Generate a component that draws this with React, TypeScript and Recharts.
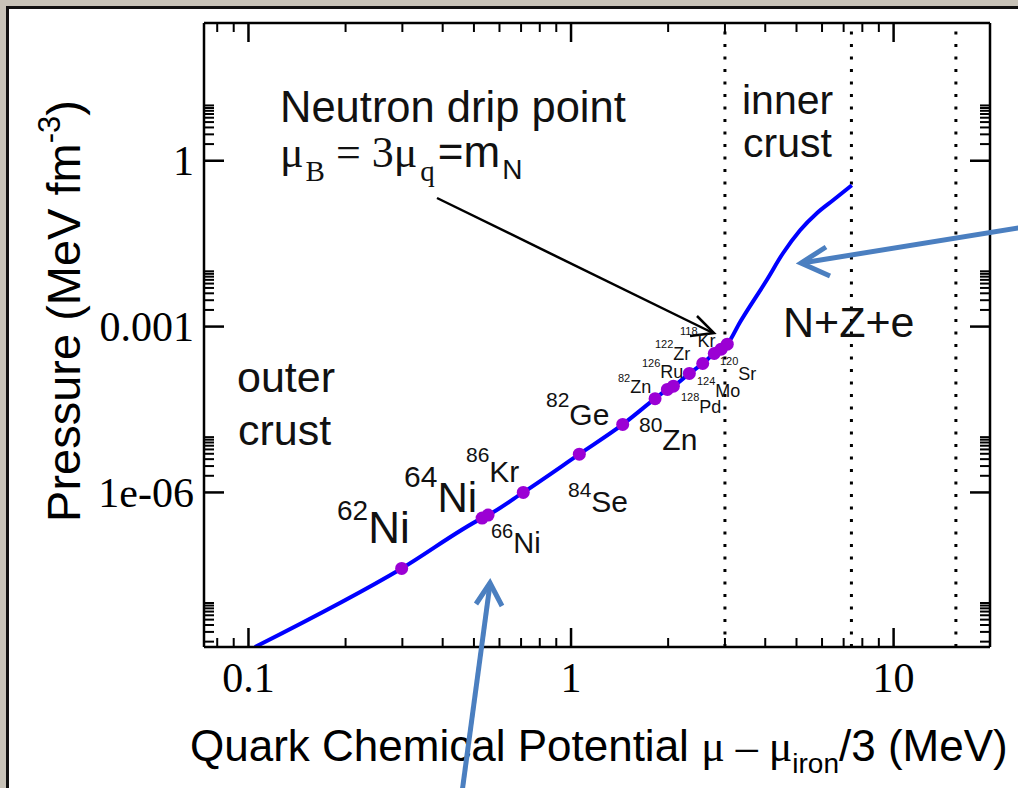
import React from 'react';
import { ComposedChart, Line, Scatter, XAxis, YAxis, ReferenceLine } from 'recharts';

// crust equation of state (MeV, MeV fm^-3)
const curveMu = [0.1047, 0.2985, 0.530, 0.553, 0.711, 1.061, 1.446, 1.822, 1.989, 2.076, 2.327, 2.56, 2.78, 2.92, 3.05, 3.34, 4.04, 4.54, 5.13, 5.78, 6.49, 7.42];
const curveP = [1.6e-9, 4.22e-8, 3.43e-7, 3.89e-7, 1.0e-6, 4.93e-6, 1.7e-5, 4.97e-5, 7.29e-5, 8.36e-5, 1.42e-4, 2.15e-4, 3.26e-4, 3.9e-4, 4.8e-4, 1.2e-3, 6.9e-3, 0.0212, 0.0553, 0.1124, 0.193, 0.36];

// nuclei of the outer crust
const nucleiNames = ['62Ni', '64Ni', '66Ni', '86Kr', '84Se', '82Ge', '80Zn', '82Zn', '128Pd', '126Ru', '124Mo', '122Zr', '120Sr', '118Kr'];
const nucleiMu = [0.2985, 0.530, 0.553, 0.711, 1.061, 1.446, 1.822, 1.989, 2.076, 2.327, 2.56, 2.78, 2.92, 3.05];
const nucleiP = [4.22e-8, 3.43e-7, 3.89e-7, 1.0e-6, 4.93e-6, 1.7e-5, 4.97e-5, 7.29e-5, 8.36e-5, 1.42e-4, 2.15e-4, 3.26e-4, 3.9e-4, 4.8e-4];

// dotted boundaries
const boundaryMu = [3.0, 7.4, 15.6];

const xDomain = [0.0728, 19.9];
const yDomain = [1.6e-9, 310];
const xTicks = [0.08, 0.09, 0.1, 0.2, 0.3, 0.4, 0.5, 0.6, 0.7, 0.8, 0.9, 1, 2, 3, 4, 5, 6, 7, 8, 9, 10];
const xMajor = [0.1, 1, 10];
const xLabels = ['0.1', '1', '10'];
const yTicks = [
  2e-9, 3e-9, 4e-9, 5e-9, 6e-9, 7e-9, 8e-9, 9e-9, 1e-8,
  1e-6, 2e-6, 3e-6, 4e-6, 5e-6, 6e-6, 7e-6, 8e-6, 9e-6, 1e-5,
  1e-3, 2e-3, 3e-3, 4e-3, 5e-3, 6e-3, 7e-3, 8e-3, 9e-3, 1e-2,
  1, 2, 3, 4, 5, 6, 7, 8, 9, 10,
];
const yMajor = [1, 1e-3, 1e-6];
const yLabels = ['1', '0.001', '1e-06'];

const SERIF = '"Liberation Serif", "Times New Roman", serif';
const SANS = '"Liberation Sans", Arial, Helvetica, sans-serif';
const ARROW_BLUE = '#4b7fc0';

const majorIndex = (v: number, majors: number[]) =>
  majors.findIndex((m) => Math.abs(Math.log10(v) - Math.log10(m)) < 1e-6);

const BottomTick = (props: any) => {
  const { x, y, payload } = props;
  const i = majorIndex(payload.value, xMajor);
  return (
    <g>
      <line x1={x} y1={y} x2={x} y2={y - (i >= 0 ? 19 : 9)} stroke="#000" strokeWidth={i >= 0 ? 2.5 : 2} />
      {i >= 0 && (
        <text x={x} y={y + 45} textAnchor="middle" fontFamily={SERIF} fontSize={42} fill="#000">
          {xLabels[i]}
        </text>
      )}
    </g>
  );
};

const TopTick = (props: any) => {
  const { x, y, payload } = props;
  const major = majorIndex(payload.value, xMajor) >= 0;
  return <line x1={x} y1={y} x2={x} y2={y + (major ? 19 : 9)} stroke="#000" strokeWidth={major ? 2.5 : 2} />;
};

const LeftTick = (props: any) => {
  const { x, y, payload } = props;
  const i = majorIndex(payload.value, yMajor);
  return (
    <g>
      <line x1={x} y1={y} x2={x + (i >= 0 ? 20 : 10)} y2={y} stroke="#000" strokeWidth={i >= 0 ? 2.5 : 2} />
      {i >= 0 && (
        <text x={x - 10} y={y} dy="0.35em" textAnchor="end" fontFamily={SERIF} fontSize={42} fill="#000">
          {yLabels[i]}
        </text>
      )}
    </g>
  );
};

const RightTick = (props: any) => {
  const { x, y, payload } = props;
  const major = majorIndex(payload.value, yMajor) >= 0;
  return <line x1={x} y1={y} x2={x - (major ? 20 : 10)} y2={y} stroke="#000" strokeWidth={major ? 2.5 : 2} />;
};

// isotope label: mass number as superscript, then element
const Iso = ({ x, y, a, el, size, supSize, lift }: any) => (
  <text x={x} y={y} fontFamily={SANS} fontSize={size} fill="#111">
    <tspan fontSize={supSize} dy={-lift}>{a}</tspan>
    <tspan dy={lift}>{el}</tspan>
  </text>
);

const App: React.FC = () => {
  const curve = curveMu.map((mu, i) => ({ mu, p: curveP[i] }));
  const nuclei = nucleiMu.map((mu, i) => ({ mu, p: nucleiP[i], name: nucleiNames[i] }));
  const axisLine = { stroke: '#000', strokeWidth: 2.5 };

  return (
    <div style={{ position: 'absolute', left: 0, top: 0, width: 1018, height: 788, overflow: 'hidden', background: '#c8c3b8' }}>
      <div style={{ position: 'absolute', left: 6, top: 6, width: 1040, height: 800, background: '#fff', border: '3px solid #111' }} />
      <div style={{ position: 'absolute', left: 0, top: 0 }}>
        <ComposedChart width={1018} height={788} margin={{ top: 0, right: 0, bottom: 0, left: 0 }}>
          <XAxis xAxisId="b" type="number" dataKey="mu" scale="log" domain={xDomain} allowDataOverflow
            ticks={xTicks} interval={0} tickSize={0} tickMargin={0} tickLine={false} height={141}
            axisLine={axisLine} tick={BottomTick} />
          <XAxis xAxisId="t" orientation="top" type="number" dataKey="mu" scale="log" domain={xDomain} allowDataOverflow
            ticks={xTicks} interval={0} tickSize={0} tickMargin={0} tickLine={false} height={23}
            axisLine={axisLine} tick={TopTick} />
          <YAxis yAxisId="l" type="number" dataKey="p" scale="log" domain={yDomain} allowDataOverflow
            ticks={yTicks} interval={0} tickSize={0} tickMargin={0} tickLine={false} width={204}
            axisLine={axisLine} tick={LeftTick} />
          <YAxis yAxisId="r" orientation="right" type="number" dataKey="p" scale="log" domain={yDomain} allowDataOverflow
            ticks={yTicks} interval={0} tickSize={0} tickMargin={0} tickLine={false} width={28}
            axisLine={axisLine} tick={RightTick} />
          {boundaryMu.map((mu) => (
            <ReferenceLine key={mu} xAxisId="b" yAxisId="l" x={mu} stroke="#000" strokeWidth={3} strokeDasharray="3 9.5" />
          ))}
          <Line xAxisId="b" yAxisId="l" data={curve} dataKey="p" type="monotone" stroke="#0000ff" strokeWidth={4}
            dot={false} activeDot={false} isAnimationActive={false} />
          <Scatter xAxisId="b" yAxisId="l" data={nuclei} dataKey="p" isAnimationActive={false}
            shape={(p: any) => <circle cx={p.cx} cy={p.cy} r={6.5} fill="#9b00d4" />} />
        </ComposedChart>
      </div>

      <svg width={1018} height={788} style={{ position: 'absolute', left: 0, top: 0, pointerEvents: 'none' }}>
        {/* axis titles */}
        <text x={190} y={761} fontFamily={SANS} fontSize={44} fill="#000">
          Quark Chemical Potential <tspan fontFamily={SERIF}>μ – μ</tspan>
          <tspan fontSize={28} dy={12}>iron</tspan>
          <tspan dy={-12}>/3 (MeV)</tspan>
        </text>
        <text transform="translate(80 311) rotate(-90)" textAnchor="middle" fontFamily={SANS} fontSize={47} fill="#000">
          Pressure (MeV fm<tspan fontSize={31} dy={-20}>-3</tspan>
          <tspan dy={20}>)</tspan>
        </text>

        {/* region labels */}
        <text x={280} y={122} fontFamily={SANS} fontSize={43.5} fill="#111">Neutron drip point</text>
        <text x={280} y={167} fontFamily={SERIF} fontSize={44} fill="#111">
          μ<tspan fontSize={29} dy={14} dx={2}>B</tspan>
          <tspan dy={-14}> = 3μ</tspan>
          <tspan fontSize={29} dy={14} dx={3}>q</tspan>
          <tspan dy={-14} dx={3} fontFamily={SANS}>=m</tspan>
          <tspan fontSize={28} dy={12} dx={2} fontFamily={SANS}>N</tspan>
        </text>
        <line x1={437} y1={198} x2={713} y2={333} stroke="#000" strokeWidth={2.5} />
        <polyline points="697,316 714,333 690,336" fill="none" stroke="#000" strokeWidth={2.5} />

        <text x={742} y={114} fontFamily={SANS} fontSize={41} fill="#111">inner</text>
        <text x={743} y={157} fontFamily={SANS} fontSize={41} fill="#111">crust</text>
        <text x={783} y={337} fontFamily={SANS} fontSize={43} fill="#111">N+Z+e</text>
        <text x={237} y={392} fontFamily={SANS} fontSize={43} fill="#111">outer</text>
        <text x={238} y={445} fontFamily={SANS} fontSize={43} fill="#111">crust</text>

        {/* nuclei */}
        <Iso x={337} y={543} a="62" el="Ni" size={44} supSize={28} lift={23} />
        <Iso x={404} y={512} a="64" el="Ni" size={42} supSize={30} lift={25} />
        <Iso x={466} y={482} a="86" el="Kr" size={30} supSize={21} lift={20} />
        <Iso x={491} y={553} a="66" el="Ni" size={29} supSize={20} lift={15} />
        <Iso x={568} y={512} a="84" el="Se" size={30} supSize={21} lift={15} />
        <Iso x={546} y={425} a="82" el="Ge" size={30} supSize={21} lift={18} />
        <Iso x={639} y={450} a="80" el="Zn" size={30} supSize={21} lift={18} />
        <Iso x={618} y={393} a="82" el="Zn" size={18} supSize={11} lift={11} />
        <Iso x={642} y={378} a="126" el="Ru" size={18} supSize={11} lift={11} />
        <Iso x={655} y={360} a="122" el="Zr" size={18} supSize={11} lift={12} />
        <Iso x={680} y={347} a="118" el="Kr" size={18} supSize={11} lift={12} />
        <Iso x={681} y={413} a="128" el="Pd" size={18} supSize={11} lift={12} />
        <Iso x={697} y={397} a="124" el="Mo" size={18} supSize={11} lift={12} />
        <Iso x={720} y={380} a="120" el="Sr" size={18} supSize={11} lift={15} />

        {/* slide arrows */}
        <line x1={1030} y1={226} x2={802} y2={263} stroke={ARROW_BLUE} strokeWidth={5} />
        <polyline points="826,247 801,263 830,276" fill="none" stroke={ARROW_BLUE} strokeWidth={5} strokeLinejoin="miter" />
        <line x1={461} y1={800} x2={490} y2={584} stroke={ARROW_BLUE} strokeWidth={5} />
        <polyline points="476,604 490,583 502,606" fill="none" stroke={ARROW_BLUE} strokeWidth={5} strokeLinejoin="miter" />
      </svg>
    </div>
  );
};

export default App;
